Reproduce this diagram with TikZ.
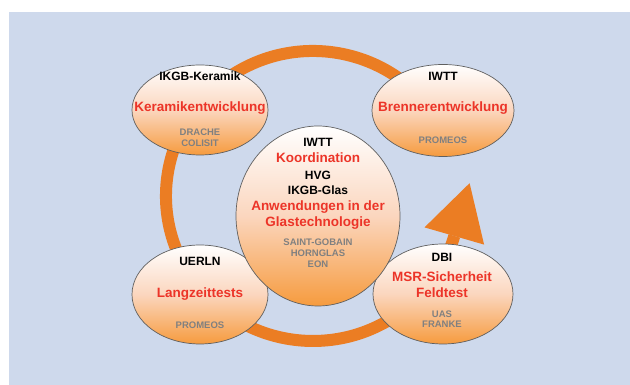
\documentclass[tikz,border=0pt]{standalone}
\usepackage{fontspec}
\setmainfont{Liberation Sans}
\usetikzlibrary{shapes.geometric}
\definecolor{bgblue}{RGB}{206,217,236}
\definecolor{ringorange}{RGB}{235,125,35}
\definecolor{ellborder}{RGB}{95,95,95}
\definecolor{shtop}{RGB}{255,255,255}
\definecolor{shmid}{RGB}{251,214,190}
\definecolor{shbot}{RGB}{246,155,62}
\definecolor{txtred}{RGB}{236,52,40}
\definecolor{txtgray}{RGB}{128,128,128}
\begin{document}
\begin{tikzpicture}[x=1pt,y=1pt,
  bubble/.style={ellipse, draw=ellborder, line width=0.7pt, inner sep=0pt,
    top color=shtop, bottom color=shbot, middle color=shmid},
  lab/.style={anchor=base, inner sep=0pt, font=\fontsize{12}{14}\selectfont\bfseries, text=black},
  topic/.style={anchor=base, inner sep=0pt, font=\fontsize{13.5}{16}\selectfont\bfseries, text=txtred},
  firm/.style={anchor=base, inner sep=0pt, font=\fontsize{9.5}{11}\selectfont\bfseries, text=txtgray},
  ring/.style={draw=ringorange, line width=12pt}]
\useasboundingbox (0,0) rectangle (630,385);
\fill[white] (0,0) rectangle (630,385);
\fill[bgblue] (9,0) rectangle (630,373);

% cycle ring with arrow
\coordinate (ringstart) at (433.4,272.2);
\coordinate (ringend) at (454.3,149.0);
\coordinate (tip) at (469.6,201.8);
\coordinate (cornerA) at (484.1,140.4);
\coordinate (cornerB) at (424.5,157.6);
\draw[ring] (ringstart) arc[start angle=35, end angle=344, x radius=147pt, y radius=145pt];
\fill[ringorange] (tip) -- (cornerA) -- (cornerB) -- cycle;

% bubbles
\node[bubble, minimum width=136pt, minimum height=90pt] (tl) at (200,275) {};
\node[bubble, minimum width=142pt, minimum height=92pt] (tr) at (443,274.5) {};
\node[bubble, minimum width=136pt, minimum height=99pt] (bl) at (200,90.5) {};
\node[bubble, minimum width=140pt, minimum height=100pt] (br) at (443,91) {};
\node[bubble, minimum width=164pt, minimum height=180pt] (c) at (318,169) {};

% top left
\node[lab] (tl1) at (200,304.7) {IKGB-Keramik};
\node[topic] (tl2) at (200,273.1) {Keramikentwicklung};
\node[firm] (tl3) at (200,249.6) {DRACHE};
\node[firm] (tl4) at (200,238.6) {COLISIT};

% top right
\node[lab] (tr1) at (443,304.7) {IWTT};
\node[topic] (tr2) at (443,273.1) {Brennerentwicklung};
\node[firm] (tr3) at (443,241.6) {PROMEOS};

% center
\node[lab] (c1) at (318,238) {IWTT};
\node[topic] (c2) at (318,222.4) {Koordination};
\node[lab] (c3) at (318,205.7) {HVG};
\node[lab] (c4) at (318,190.7) {IKGB-Glas};
\node[topic] (c5) at (318,174.1) {Anwendungen in der};
\node[topic] (c6) at (318,158.4) {Glastechnologie};
\node[firm] (c7) at (318,139.9) {SAINT-GOBAIN};
\node[firm] (c8) at (318,128.9) {HORNGLAS};
\node[firm] (c9) at (318,117.6) {EON};

% bottom left
\node[lab] (bl1) at (200,119.7) {UERLN};
\node[topic] (bl2) at (200,87.4) {Langzeittests};
\node[firm] (bl3) at (200,56.6) {PROMEOS};

% bottom right
\node[lab] (br1) at (442,123) {DBI};
\node[topic] (br2) at (442,103.1) {MSR-Sicherheit};
\node[topic] (br3) at (442,87.1) {Feldtest};
\node[firm] (br4) at (442,67.6) {UAS};
\node[firm] (br5) at (442,57.6) {FRANKE};
\end{tikzpicture}
\end{document}
